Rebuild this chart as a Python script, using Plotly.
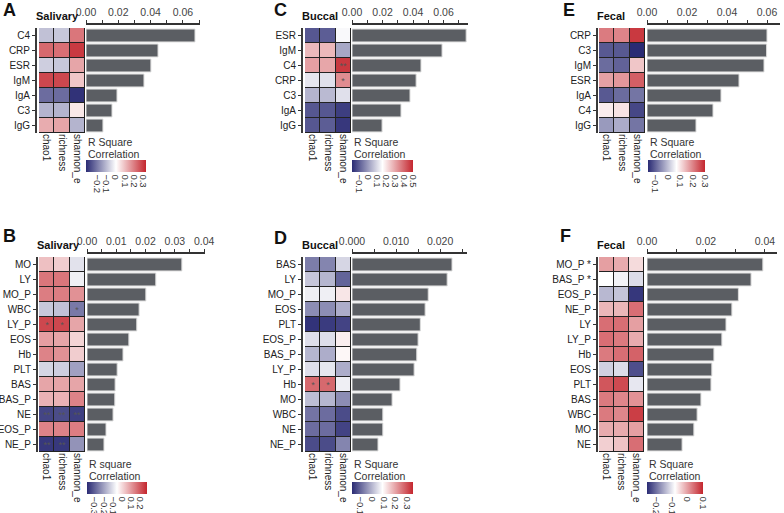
import plotly.graph_objects as go

W, H = 784, 513

# ---------------- data ----------------
cols = ['chao1', 'richness', 'shannon_e']

# A - Salivary, immune markers
a_rows = ['C4', 'CRP', 'ESR', 'IgM', 'IgA', 'C3', 'IgG']
a_r2 = [0.0675, 0.0446, 0.0402, 0.0359, 0.0192, 0.0161, 0.0105]
a_chao1 = [-0.09, 0.23, -0.07, 0.28, -0.22, -0.11, 0.13]
a_richness = [-0.08, 0.22, -0.08, 0.28, -0.22, -0.11, 0.14]
a_shannon = [0.21, 0.30, 0.14, 0.09, -0.31, 0.04, -0.11]
a_stars = {}

# C - Buccal, immune markers
c_rows = ['ESR', 'IgM', 'C4', 'CRP', 'C3', 'IgA', 'IgG']
c_r2 = [0.0748, 0.0590, 0.0452, 0.0420, 0.0380, 0.0321, 0.0197]
c_chao1 = [-0.11, 0.27, 0.31, 0.12, 0.04, -0.11, -0.11]
c_richness = [-0.10, 0.27, 0.30, 0.11, 0.05, -0.11, -0.10]
c_shannon = [0.15, 0.02, 0.47, 0.34, 0.11, -0.15, -0.16]
c_stars = {('C4', 2): '**', ('CRP', 2): '*'}

# E - Fecal, immune markers
e_rows = ['CRP', 'C3', 'IgM', 'ESR', 'IgA', 'C4', 'IgG']
e_r2 = [0.0600, 0.0598, 0.0585, 0.0460, 0.0370, 0.0330, 0.0245]
e_chao1 = [0.21, -0.11, -0.09, 0.17, -0.11, 0.09, -0.04]
e_richness = [0.20, -0.11, -0.10, 0.18, -0.09, 0.10, -0.02]
e_shannon = [0.28, -0.16, 0.13, 0.24, -0.08, -0.13, -0.08]
e_stars = {}

# B - Salivary, blood counts
b_rows = ['MO', 'LY', 'MO_P', 'WBC', 'LY_P', 'EOS', 'Hb', 'PLT', 'BAS', 'BAS_P',
          'NE', 'EOS_P', 'NE_P']
b_r2 = [0.0324, 0.0235, 0.0201, 0.0178, 0.0170, 0.0143, 0.0123, 0.0103, 0.0096,
        0.0095, 0.0089, 0.0065, 0.0058]
b_chao1 = [0.04, 0.15, 0.14, -0.14, 0.22, 0.09, 0.13, -0.12, 0.08, 0.06, -0.34, 0.13, -0.36]
b_richness = [0.02, 0.15, 0.14, -0.15, 0.22, 0.08, 0.11, -0.13, 0.08, 0.06, -0.33, 0.13, -0.36]
b_shannon = [-0.10, -0.08, 0.11, -0.26, 0.08, 0.01, 0.02, -0.20, 0.08, 0.13, -0.35, 0.14, -0.22]
b_stars = {('WBC', 2): '*', ('LY_P', 0): '*', ('LY_P', 1): '*',
           ('NE', 0): '**', ('NE', 1): '**', ('NE', 2): '**',
           ('NE_P', 0): '**', ('NE_P', 1): '**'}

# D - Buccal, blood counts
d_rows = ['BAS', 'LY', 'MO_P', 'EOS', 'PLT', 'EOS_P', 'BAS_P', 'LY_P', 'Hb', 'MO',
          'WBC', 'NE', 'NE_P']
d_r2 = [0.0227, 0.0216, 0.0173, 0.0166, 0.0155, 0.0150, 0.0147, 0.0141, 0.0109,
        0.0091, 0.0070, 0.0070, 0.0059]
d_chao1 = [-0.07, 0.02, 0.07, -0.05, -0.16, 0.05, 0.00, 0.05, 0.27, 0.01, -0.08, -0.09, -0.13]
d_richness = [-0.06, 0.00, 0.07, -0.05, -0.15, 0.05, -0.01, 0.06, 0.27, 0.00, -0.09, -0.09, -0.13]
d_shannon = [0.04, -0.10, 0.12, -0.01, -0.14, 0.11, 0.10, -0.01, 0.07, -0.05, -0.13, -0.14, -0.06]
d_stars = {('Hb', 0): '*', ('Hb', 1): '*'}

# F - Fecal, blood counts
f_rows = ['MO_P *', 'BAS_P *', 'EOS_P', 'NE_P', 'LY', 'LY_P', 'Hb', 'EOS', 'PLT',
          'BAS', 'WBC', 'MO', 'NE']
f_r2 = [0.0393, 0.0353, 0.0310, 0.0288, 0.0268, 0.0254, 0.0227, 0.0220, 0.0217,
        0.0183, 0.0170, 0.0159, 0.0119]
f_chao1 = [0.00, -0.08, -0.14, -0.02, 0.04, 0.04, 0.03, -0.12, 0.06, 0.03, 0.03, -0.01, -0.04]
f_richness = [-0.01, -0.09, -0.13, -0.02, 0.04, 0.03, 0.04, -0.11, 0.07, 0.02, 0.02, -0.01, -0.03]
f_shannon = [-0.05, -0.11, -0.25, 0.04, 0.00, -0.01, 0.05, -0.23, -0.10, 0.01, 0.08, 0.00, 0.04]
f_stars = {}

# ---------------- styling ----------------
FONT = 'Arial, Liberation Sans, sans-serif'
CS = [[0, '#2a2b74'], [0.5, '#ffffff'], [1, '#c4262e']]
BAR = '#5b5e63'
INK = '#333333'

fig = go.Figure()
annotations = []
shapes = []
layout = {}


def nm(letter, i):
    return letter if i == 1 else f'{letter}{i}'


def key(letter, i):
    return f'{letter}axis' if i == 1 else f'{letter}axis{i}'


# screen pixel -> paper fraction
def px(x):
    return x / W


def py(y):
    return 1 - y / H


def note(text, x, y, size, xanchor='left', color=INK):
    annotations.append(dict(text=text, x=px(x), y=py(y), xref='paper', yref='paper',
                            xanchor=xanchor, yanchor='middle', showarrow=False,
                            font=dict(size=size, color=color, family=FONT)))


def add_panel(k, rows, chao1, richness, shannon, r2, stars, g):
    n = len(rows)
    hi, bi = 2 * k - 1, 2 * k
    z = [list(t) for t in zip(chao1, richness, shannon)]
    text = [['' for _ in cols] for _ in rows]
    for (r, c), s in stars.items():
        text[rows.index(r)][c] = s

    fig.add_trace(go.Heatmap(
        z=z, x=cols, y=rows, text=text, texttemplate='%{text}',
        textfont=dict(size=9, color='#555'),
        colorscale=CS, zmin=g['zr'][0], zmax=g['zr'][1], xgap=1, ygap=1,
        xaxis=nm('x', hi), yaxis=nm('y', hi),
        colorbar=dict(orientation='h', x=px(g['cbx']), xanchor='left',
                      y=py(g['cby']), yanchor='top', len=g['cblen'], lenmode='pixels',
                      thickness=12, tickvals=g['cbticks'], tickangle=90, ticks='',
                      tickfont=dict(size=9.5, color=INK, family=FONT),
                      outlinewidth=0, xpad=0, ypad=0)))

    fig.add_trace(go.Bar(
        x=r2, y=rows, orientation='h', width=0.86,
        marker=dict(color=BAR, line=dict(color='#dcdcdc', width=1)),
        xaxis=nm('x', bi), yaxis=nm('y', bi)))

    ydom = [py(g['bottom']), py(g['top'])]
    layout[key('x', hi)] = dict(domain=[px(g['hx0']), px(g['hx1'])], anchor=nm('y', hi),
                                range=[-0.5, 2.5], tickangle=90, ticks='', showline=False,
                                showgrid=False, zeroline=False, automargin=False,
                                tickfont=dict(size=10, color='#222', family=FONT))
    layout[key('y', hi)] = dict(domain=ydom, anchor='free', position=px(g['ylx']),
                                range=[n - 0.5, -0.5], ticks='outside', ticklen=3,
                                tickcolor=INK, showline=True, linecolor='#3a3a3a',
                                linewidth=2, showgrid=False, zeroline=False,
                                automargin=False,
                                tickfont=dict(size=10, color='#222', family=FONT))
    layout[key('x', bi)] = dict(domain=[px(g['bx0']), px(g['bx1'])], anchor='free',
                                position=py(g['line_y']), side='top',
                                range=[0, g['xmax']], dtick=g['dtick'],
                                tickformat=g['fmt'], ticks='outside', ticklen=3,
                                tickcolor=INK, showline=True, linecolor=INK, linewidth=1.5,
                                minor=dict(ticks='outside', dtick=g['dtick'] / 2, ticklen=3,
                                           tickcolor=INK),
                                showgrid=False, zeroline=False, automargin=False,
                                tickfont=dict(size=10.5, color='#444', family=FONT))
    layout[key('y', bi)] = dict(domain=ydom, anchor=nm('x', bi), range=[n - 0.5, -0.5],
                                visible=False, automargin=False)

    shapes.append(dict(type='rect', xref=nm('x', hi), yref=nm('y', hi),
                       x0=-0.5, x1=2.5, y0=-0.5, y1=n - 0.5, fillcolor='#222',
                       line=dict(color='#222', width=1), layer='below'))

    note(f"<b>{g['letter']}</b>", g['lx'], g['ly'], 18, 'center', '#111')
    note(f"<b>{g['title']}</b>", g['ylx'] - 2, g['line_y'] - 8, 11, 'left', '#111')
    note(g['r2lab'], g['cbx'], g['cby'] - 18, 10.5)
    note('Correlation', g['cbx'], g['cby'] - 6, 10.5)


top = dict(top=28, bottom=133, line_y=24, cby=160)
bot = dict(top=257, bottom=452, line_y=253, cby=482)

add_panel(1, a_rows, a_chao1, a_richness, a_shannon, a_r2, a_stars, dict(
    top, letter='A', lx=9, ly=10, title='Salivary', ylx=36, hx0=39, hx1=85, bx0=86,
    bx1=200, xmax=0.0706, dtick=0.02, fmt='.2f', zr=(-0.32, 0.33),
    cbticks=[-0.2, -0.1, 0, 0.1, 0.2, 0.3], cbx=86, cblen=60, r2lab='R Square'))
add_panel(2, c_rows, c_chao1, c_richness, c_shannon, c_r2, c_stars, dict(
    top, letter='C', lx=280, ly=10, title='Buccal', ylx=302, hx0=305, hx1=351, bx0=352,
    bx1=468, xmax=0.076, dtick=0.02, fmt='.2f', zr=(-0.18, 0.5),
    cbticks=[-0.1, 0, 0.1, 0.2, 0.3, 0.4, 0.5], cbx=352, cblen=61, r2lab='R Square'))
add_panel(3, e_rows, e_chao1, e_richness, e_shannon, e_r2, e_stars, dict(
    top, letter='E', lx=569, ly=10, title='Fecal', ylx=597, hx0=599, hx1=645, bx0=647,
    bx1=780, xmax=0.0665, dtick=0.02, fmt='.2f', zr=(-0.16, 0.3),
    cbticks=[-0.1, 0, 0.1, 0.2, 0.3], cbx=648, cblen=57, r2lab='R Square'))
add_panel(4, b_rows, b_chao1, b_richness, b_shannon, b_r2, b_stars, dict(
    bot, letter='B', lx=9, ly=236, title='Salivary', ylx=37, hx0=39, hx1=85, bx0=87,
    bx1=205, xmax=0.0403, dtick=0.01, fmt='.2f', zr=(-0.38, 0.27),
    cbticks=[-0.3, -0.2, -0.1, 0, 0.1, 0.2], cbx=87, cblen=60, r2lab='R square'))
add_panel(5, d_rows, d_chao1, d_richness, d_shannon, d_r2, d_stars, dict(
    bot, letter='D', lx=280, ly=238, title='Buccal', ylx=302, hx0=305, hx1=351, bx0=352,
    bx1=467, xmax=0.0261, dtick=0.01, fmt='.3f', zr=(-0.17, 0.35),
    cbticks=[-0.1, 0, 0.1, 0.2, 0.3], cbx=352, cblen=61, r2lab='R Square'))
add_panel(6, f_rows, f_chao1, f_richness, f_shannon, f_r2, f_stars, dict(
    bot, letter='F', lx=565, ly=236, title='Fecal', ylx=597, hx0=599, hx1=644, bx0=647,
    bx1=777, xmax=0.0441, dtick=0.02, fmt='.2f', zr=(-0.26, 0.1),
    cbticks=[-0.2, -0.1, 0, 0.1], cbx=647, cblen=56, r2lab='R Square'))

fig.update_layout(
    width=W, height=H, margin=dict(l=0, r=0, t=0, b=0, autoexpand=False),
    paper_bgcolor='white', plot_bgcolor='white', showlegend=False,
    font=dict(family=FONT, color=INK), annotations=annotations, shapes=shapes,
    **layout)

# drop the browser's default 8px page margin so the figure sits at the window corner
fig.write_html('out.html', config={'displayModeBar': False},
               post_script="document.body.style.margin='0';")
